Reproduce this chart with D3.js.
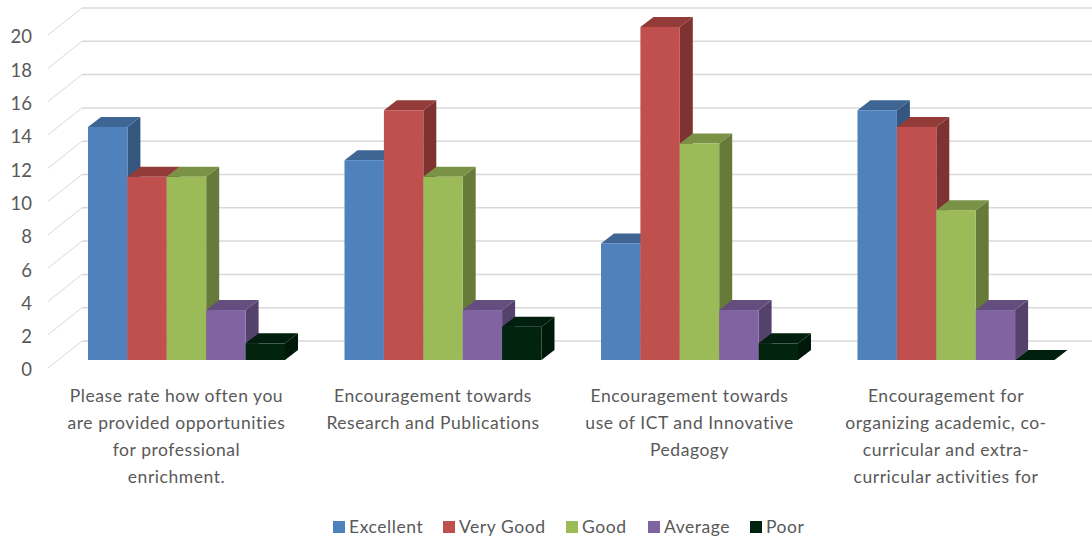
<!DOCTYPE html>
<html>
<head>
<meta charset="utf-8">
<script src="https://cdn.jsdelivr.net/npm/d3@7/dist/d3.min.js"></script>
<style>
html,body{margin:0;padding:0;background:#fff}
svg{display:block}
text{font-family:Lato,"Open Sans",sans-serif;fill:#595959}
</style>
</head>
<body>
<svg id="chart" width="1092" height="538"></svg>
<script>
const categories = ["q1","q2","q3","q4"];
const categoryLines = [
  ["Please rate how often you","are provided opportunities","for professional","enrichment."],
  ["Encouragement towards","Research and Publications"],
  ["Encouragement towards","use of ICT and Innovative","Pedagogy"],
  ["Encouragement for","organizing academic, co-","curricular and extra-","curricular activities for"]
];
const seriesNames = ["Excellent","Very Good","Good","Average","Poor"];
const excellent = [14,12,7,15];
const veryGood = [11,15,20,14];
const good = [11,11,13,9];
const average = [3,3,3,3];
const poor = [1,2,1,0];
const seriesValues = [excellent,veryGood,good,average,poor];
const frontColors = ["#4F81BD","#C0504D","#9BBB59","#8064A2","#02240F"];
const sideColors  = ["#34567F","#7F3331","#667A39","#54426C","#00190A"];
const topColors   = ["#3E6594","#933B39","#7A9246","#634E7F","#011F0D"];
const yTicks = d3.range(0,21,2);

const svg = d3.select("#chart");
const y = d3.scaleLinear().domain([0,20]).range([360,27]);
const x = d3.scaleBand().domain(categories).range([58.25,1084.25]).paddingInner(0.232).paddingOuter(0.116);
const xs = d3.scaleBand().domain(seriesNames).range([0,x.bandwidth()]);

const barDx = 13, barDy = -10;

// gridlines
const grid = svg.append("g").attr("fill","none").attr("stroke","#D9D9D9").attr("stroke-width",1.5);
grid.selectAll("line.back").data(yTicks).join("line").attr("class","back")
  .attr("x1",82).attr("x2",1092)
  .attr("y1",d=>y(d)-19).attr("y2",d=>y(d)-19);
grid.selectAll("line.diag").data(yTicks).join("line").attr("class","diag")
  .attr("stroke-width",1)
  .attr("x1",48).attr("x2",82)
  .attr("y1",d=>y(d)+8).attr("y2",d=>y(d)-19);

// y axis labels
const axis = svg.append("g").attr("transform","translate(32,10)")
  .call(d3.axisLeft(y).tickValues(yTicks).tickSize(0).tickPadding(0));
axis.select(".domain").remove();
axis.selectAll("text").style("font-size","18.5px").style("font-family","Lato,sans-serif").attr("fill","#595959");

// 3D bars
categories.forEach((c,ci)=>{
  const g = svg.append("g");
  seriesNames.forEach((s,si)=>{
    const v = seriesValues[si][ci];
    const x0 = x(c)+xs(s), w = xs.bandwidth(), yt = y(v), yb = y(0);
    const pts = a=>a.map(p=>p.join(",")).join(" ");
    g.append("polygon").attr("fill",sideColors[si])
      .attr("points",pts([[x0+w,yt],[x0+w+barDx,yt+barDy],[x0+w+barDx,yb+barDy],[x0+w,yb]]));
    g.append("polygon").attr("fill",topColors[si])
      .attr("points",pts([[x0,yt],[x0+barDx,yt+barDy],[x0+w+barDx,yt+barDy],[x0+w,yt]]));
    if(v>0) g.append("rect").attr("x",x0).attr("y",yt).attr("width",w).attr("height",yb-yt).attr("fill",frontColors[si]);
  });
});

// category labels
const lineHeight = 27;
categoryLines.forEach((lines,i)=>{
  svg.append("text").attr("text-anchor","middle").style("font-size","17.5px").style("letter-spacing","0.55px")
    .selectAll("tspan").data(lines).join("tspan")
    .attr("x",x(categories[i])+x.bandwidth()/2-10)
    .attr("y",(d,j)=>402+j*lineHeight)
    .text(d=>d);
});

// legend
const legendSquareX = [333,443,566,648,750];
const legend = svg.append("g");
seriesNames.forEach((s,i)=>{
  legend.append("rect").attr("x",legendSquareX[i]).attr("y",521).attr("width",12).attr("height",12).attr("fill",frontColors[i]);
  legend.append("text").attr("x",legendSquareX[i]+16).attr("y",533).style("font-size","17.5px").style("letter-spacing","0.55px").text(s);
});
</script>
</body>
</html>
